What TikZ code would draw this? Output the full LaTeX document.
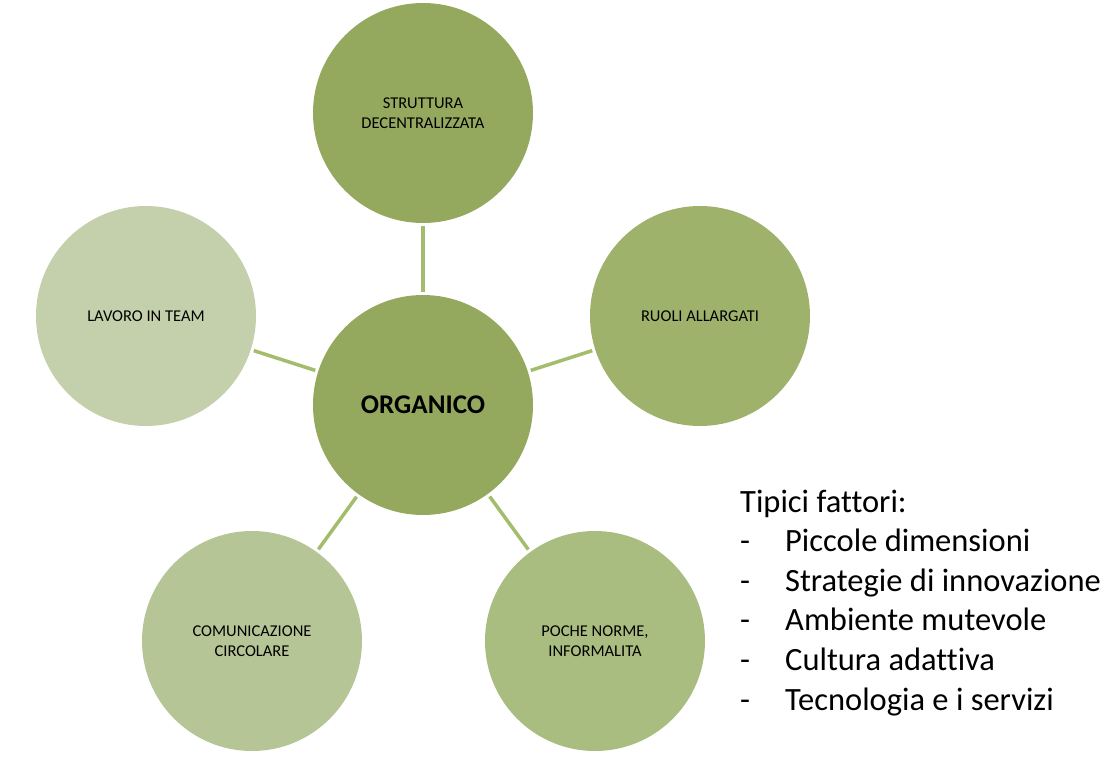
\documentclass[tikz,border=0pt]{standalone}
\usepackage{fontspec}
\setmainfont{Carlito}[Ligatures=NoCommon]
\usepackage{xcolor}
\usetikzlibrary{arrows.meta,positioning,calc}

\definecolor{olivecore}{RGB}{148,169,94}
\definecolor{olivetop}{RGB}{148,169,94}
\definecolor{oliveright}{RGB}{158,178,108}
\definecolor{olivebr}{RGB}{170,189,128}
\definecolor{olivebl}{RGB}{182,197,150}
\definecolor{oliveleft}{RGB}{196,208,171}
\definecolor{linkgreen}{RGB}{164,189,108}

\begin{document}
\begin{tikzpicture}[x=1pt,y=-1pt,
 bubble/.style={circle,minimum size=220pt,inner sep=0pt,align=center,font=\fontsize{16.5}{19.5}\selectfont},
 link/.style={draw=linkgreen,line width=3.5pt,shorten <=3pt,shorten >=3pt}]
\useasboundingbox (0,0) rectangle (1120,769);
\node[bubble,fill=olivecore,font=\fontsize{27}{30}\selectfont\bfseries] (org) at (423,405) {ORGANICO};
\node[bubble,fill=olivetop] (strutt) at (423,113) {STRUTTURA\\DECENTRALIZZATA};
\node[bubble,fill=oliveright] (ruoli) at (700,316) {RUOLI ALLARGATI};
\node[bubble,fill=olivebr] (norme) at (595,641) {POCHE NORME,\\INFORMALITA};
\node[bubble,fill=olivebl] (comun) at (252,641) {COMUNICAZIONE\\CIRCOLARE};
\node[bubble,fill=oliveleft] (lavoro) at (146,316) {LAVORO IN TEAM};
\draw[link] (org)--(strutt);
\draw[link] (org)--(ruoli);
\draw[link] (org)--(norme);
\draw[link] (org)--(comun);
\draw[link] (org)--(lavoro);
\node[anchor=base west,align=left,inner sep=0pt,font=\fontsize{32.5}{39.6}\selectfont] (fattori) at (740,710)
 {Tipici fattori:\\
 \makebox[45pt][l]{-}Piccole dimensioni\\
 \makebox[45pt][l]{-}Strategie di innovazione\\
 \makebox[45pt][l]{-}Ambiente mutevole\\
 \makebox[45pt][l]{-}Cultura adattiva\\
 \makebox[45pt][l]{-}Tecnologia e i servizi};
\end{tikzpicture}
\end{document}
